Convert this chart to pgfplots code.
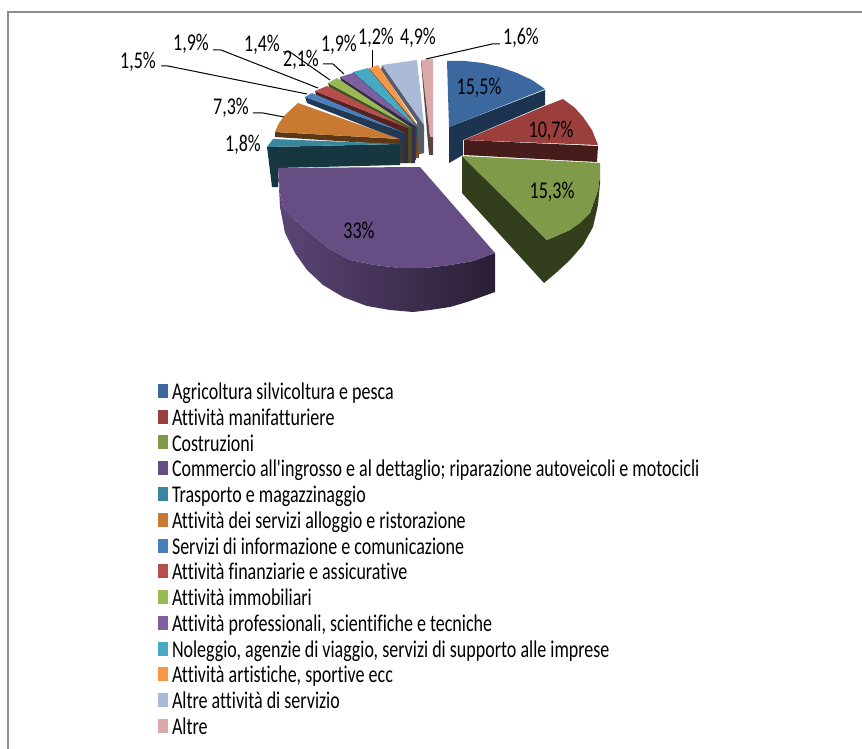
\documentclass[border=0pt]{standalone}
\usepackage{fontspec}
\setmainfont{Carlito}[FakeStretch=0.75,Ligatures={NoCommon,TeXOff}]
\usepackage{pgfplots}
\pgfplotsset{compat=1.18}

\definecolor{c1}{HTML}{3A689F}\definecolor{c2}{HTML}{9B3F3D}\definecolor{c3}{HTML}{7F9A48}
\definecolor{c4}{HTML}{664D83}\definecolor{c5}{HTML}{38879F}\definecolor{c6}{HTML}{C87A33}
\definecolor{c7}{HTML}{4A7EBB}\definecolor{c8}{HTML}{B84E4B}\definecolor{c9}{HTML}{98B954}
\definecolor{c10}{HTML}{7D60A0}\definecolor{c11}{HTML}{46AAC5}\definecolor{c12}{HTML}{F79646}
\definecolor{c13}{HTML}{AABAD7}\definecolor{c14}{HTML}{D9AAA9}

% one polygon of the pie, corners in pixels
\newcommand{\face}[2]{\addplot[fill=#1,draw=none,forget plot] coordinates {#2} --cycle;}
\newcommand{\lab}[2]{\node[font=\lbl,inner sep=0pt] at (axis cs:#1) {#2};}
\newcommand{\lead}[1]{\addplot[black,line width=1pt,forget plot] coordinates {#1};}
\newcommand{\lbl}{\fontsize{24}{28}\selectfont}

\begin{document}
\begin{tikzpicture}
\begin{axis}[
    width=862pt, height=749pt, scale only axis,
    xmin=0, xmax=862, ymin=0, ymax=749, y dir=reverse,
    hide axis, no markers,
    legend cell align=left,
    legend image code/.code={\fill[#1,draw=none] (0pt,-2.5pt) rectangle (10pt,11.5pt);},
    legend style={draw=none, fill=none, at={(axis cs:158,382.5)}, anchor=north west,
      inner sep=0pt, outer sep=0pt, row sep=0pt, font=\lbl,
      nodes={inner sep=0pt, text height=17pt, text depth=8.77pt},
      /tikz/every odd column/.append style={column sep=4pt}},
]
\addlegendimage{fill=c1}\addlegendentry{Agricoltura silvicoltura e pesca}
\addlegendimage{fill=c2}\addlegendentry{Attività manifatturiere}
\addlegendimage{fill=c3}\addlegendentry{Costruzioni}
\addlegendimage{fill=c4}\addlegendentry{Commercio all'ingrosso e al dettaglio; riparazione autoveicoli e motocicli}
\addlegendimage{fill=c5}\addlegendentry{Trasporto e magazzinaggio}
\addlegendimage{fill=c6}\addlegendentry{Attività dei servizi alloggio e ristorazione}
\addlegendimage{fill=c7}\addlegendentry{Servizi di informazione e comunicazione}
\addlegendimage{fill=c8}\addlegendentry{Attività finanziarie e assicurative}
\addlegendimage{fill=c9}\addlegendentry{Attività immobiliari}
\addlegendimage{fill=c10}\addlegendentry{Attività professionali, scientifiche e tecniche}
\addlegendimage{fill=c11}\addlegendentry{Noleggio, agenzie di viaggio, servizi di supporto alle imprese}
\addlegendimage{fill=c12}\addlegendentry{Attività artistiche, sportive ecc}
\addlegendimage{fill=c13}\addlegendentry{Altre attività di servizio}
\addlegendimage{fill=c14}\addlegendentry{Altre}

% chart frame
\addplot[black!45,line width=1.5pt,forget plot] coordinates {(8,749) (8,12) (862,12)};

% small slices, back to front
\face{black!60!c14}{(421,62) (424,62) (430,137) (433,137) (433,155) (429,155)}
\face{c14}{(421,60) (433,59) (433,137) (430,137)}
\face{black!50!c13}{(382,65) (424,125) (424,153) (417,155) (417,122) (381,70)}
\face{c13}{(382,65) (417,60) (424,125)}
\face{black!50!c12}{(369,68) (418,126) (419,158) (414,158) (414,125) (369,71)}
\face{c12}{(369,68) (378,65) (418,126)}
\face{black!55!c11}{(353,72) (417,127) (416,160) (409,160) (409,128) (352,76)}
\face{c11}{(353,72) (368,68) (417,127)}
\face{black!55!c10}{(340,77) (415,126) (415,163) (411,163) (410,129) (341,81)}
\face{c10}{(340,77) (353,73) (415,126)}
\face{black!55!c9}{(328,83) (412,128) (412,163) (408,163) (406,131) (329,87)}
\face{c9}{(328,83) (337,78) (412,128)}
\face{black!55!c8}{(315,91) (408,128) (408,163) (403,163) (403,133) (316,95)}
\face{c8}{(315,91) (327,86) (408,128)}
\face{black!55!c7}{(305,97) (405,133) (405,163) (400,163) (400,140) (307,103)}
\face{c7}{(305,97) (312,93) (405,133)}
% catering and transport
\face{black!55!c6}{(275,132) (400,139) (402,163) (400,163) (400,145) (275,137)}
\face{c6}{(275,132) (279,123) (285,115) (298,103) (400,139)}
\face{black!60!c5}{(267,147) (400,144) (400,165) (278,168) (278,187) (272,187)}
\face{c5}{(267,147) (273,139) (400,144)}
% trade, with its shaded wall
\addplot[draw=none,left color=c4!90!black,right color=c4!40!black,forget plot] coordinates
  {(278,168) (280,207) (285,233) (295,253) (307,270) (323,285) (343,297) (367,306) (390,310) (413,312) (430,310) (450,307) (467,302) (495,292)
   (495,253) (473,261) (450,265) (425,268) (400,268) (375,265) (350,260) (328,248) (310,233) (295,220) (283,207) (280,193)} --cycle;
\face{c4}{(278,168) (420,167) (495,253) (473,261) (450,265) (425,268) (400,268) (375,265) (350,260) (328,248) (310,233) (295,220) (283,207) (280,193)}
% slices pulled out on the right
\face{black!50!c1}{(449,127) (545,90) (545,105) (463,140) (463,155) (449,163)}
\face{c1}{(449,127) (447,61) (465,61) (483,63) (500,67) (517,73) (532,80) (545,89)}
\face{black!55!c2}{(464,140) (598,146) (597,162) (464,155)}
\face{c2}{(464,140) (545,106) (563,99) (575,108) (583,117) (592,130) (598,145)}
\face{black!60!c3}{(462,156) (547,240) (570,230) (590,213) (598,190) (600,175) (600,183) (598,205) (593,227) (583,245) (570,260) (557,272) (544,283) (462,193)}
\face{c3}{(462,156) (600,163) (600,175) (598,190) (590,213) (580,223) (570,230) (547,240)}

% leader lines
\lead{(161,66) (168,66) (307,94)}
\lead{(213,50) (221,50) (318,88)}
\lead{(283,52) (290,52) (330,80)}
\lead{(323,64) (333,64) (344,74)}
\lead{(372,50) (372,67)}
\lead{(500,44) (492,44) (426,59)}
\lead{(253,113) (263,113) (284,117)}

\lab{479,88}{15,5\%}
\lab{551,131}{10,7\%}
\lab{552,192}{15,3\%}
\lab{359,230}{33\%}
\lab{243,145}{1,8\%}
\lab{231,108}{7,3\%}
\lab{138,62}{1,5\%}
\lab{191,44}{1,9\%}
\lab{262,45}{1,4\%}
\lab{301,60}{2,1\%}
\lab{339,45}{1,9\%}
\lab{376,38}{1,2\%}
\lab{418,38}{4,9\%}
\lab{521,38}{1,6\%}
\end{axis}
\path (current axis.south west) (current axis.north east);
\end{tikzpicture}
\end{document}
